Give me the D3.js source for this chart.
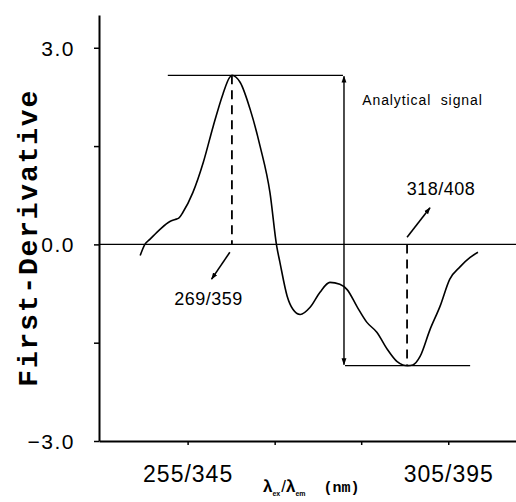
<!DOCTYPE html>
<html>
<head>
<meta charset="utf-8">
<script src="https://cdn.jsdelivr.net/npm/d3@7"></script>
<style>
  html, body { margin: 0; padding: 0; background: #fff; }
  svg { display: block; }
</style>
</head>
<body>
<svg id="chart" width="516" height="502"></svg>
<script>
// ---- data ----
const wavelengthEx = [245.9, 246.8, 247.8, 249.7, 251.6, 252.6, 253.3, 254.1, 256.0, 258.0, 259.9, 261.8, 263.0, 263.5, 264.3, 265.1, 267.0, 268.9, 270.8, 272.1, 272.7, 274.1, 275.2, 276.6, 278.5, 280.4, 282.3, 284.2, 285.6, 287.5, 289.4, 291.3, 293.3, 295.2, 296.3, 297.2, 298.2, 299.6, 301.5, 303.4, 305.3, 307.3, 309.2, 310.7];
const firstDerivative = [-0.17, 0.0, 0.08, 0.23, 0.35, 0.38, 0.40, 0.49, 0.79, 1.25, 1.80, 2.30, 2.54, 2.58, 2.55, 2.47, 2.06, 1.50, 0.79, -0.03, -0.27, -0.79, -0.99, -1.07, -0.96, -0.73, -0.58, -0.61, -0.69, -0.95, -1.19, -1.34, -1.60, -1.79, -1.84, -1.85, -1.84, -1.71, -1.30, -0.95, -0.53, -0.34, -0.20, -0.12];

const xTickValues = [255, 271.7, 288.3, 305];
const xTickLabels = ["255/345", "", "", "305/395"];
const yTickValues = [-3, -1.5, 0, 1.5, 3];
const yTickLabels = ["\u22123.0", "", "0.0", "", "3.0"];

// annotation values (data units)
const peakPoint = [263.5, 2.58];      // 269/359
const troughPoint = [297.1, -1.85];   // 318/408
const signalX = 285.0;
const topLineX = [251.2, 284.8];
const bottomLineX = [285.2, 309.2];
const peakLabel = "269/359";
const troughLabel = "318/408";
const signalLabel = "Analytical  signal";
const yTitle = "First-Derivative";

// ---- chart ----
const svg = d3.select("#chart");
const x = d3.scaleLinear().domain([238, 318]).range([99, 516]);
const y = d3.scaleLinear().domain([-3, 3.5]).range([441, 15]);

const defs = svg.append("defs");
defs.append("marker").attr("id", "ah")
  .attr("viewBox", "0 0 10 10").attr("refX", 9).attr("refY", 5)
  .attr("markerWidth", 7).attr("markerHeight", 7).attr("markerUnits", "userSpaceOnUse")
  .attr("orient", "auto-start-reverse")
  .append("path").attr("d", "M0,1.5 L10,5 L0,8.5 Z").attr("fill", "#000");

// zero line
svg.append("line")
  .attr("x1", x(238)).attr("x2", x(318))
  .attr("y1", y(0)).attr("y2", y(0))
  .attr("stroke", "#000").attr("stroke-width", 1.2);

// axes
const yAxis = d3.axisLeft(y).tickValues(yTickValues)
  .tickFormat((d, i) => yTickLabels[i]).tickSize(5).tickSizeOuter(0);
const gy = svg.append("g").attr("transform", `translate(${x(238)},0)`).call(yAxis);
gy.select(".domain").attr("stroke-width", 2);
gy.selectAll(".tick line").attr("stroke-width", 1.5);
gy.selectAll(".tick text")
  .attr("font-family", "Liberation Sans, Arial, sans-serif")
  .attr("font-size", 21).attr("letter-spacing", 1.5)
  .attr("x", -24).attr("dy", "0.36em").attr("fill", "#000");

const xAxis = d3.axisBottom(x).tickValues(xTickValues)
  .tickFormat((d, i) => xTickLabels[i]).tickSize(4).tickSizeOuter(0);
const gx = svg.append("g").attr("transform", `translate(0,${y(-3)})`).call(xAxis);
gx.select(".domain").attr("stroke-width", 2);
gx.selectAll(".tick line").attr("stroke-width", 1.5);
gx.selectAll(".tick text")
  .attr("font-family", "Liberation Sans, Arial, sans-serif")
  .attr("font-size", 23).attr("letter-spacing", 1)
  .attr("y", 41).attr("dy", 0).attr("fill", "#000");

// curve
const pts = wavelengthEx.map((w, i) => [w, firstDerivative[i]]);
svg.append("path")
  .datum(pts)
  .attr("fill", "none").attr("stroke", "#000").attr("stroke-width", 1.6)
  .attr("d", d3.line().x(d => x(d[0])).y(d => y(d[1])).curve(d3.curveMonotoneX));

// dashed verticals
svg.append("line")
  .attr("x1", x(peakPoint[0])).attr("x2", x(peakPoint[0]))
  .attr("y1", y(peakPoint[1])).attr("y2", y(0))
  .attr("stroke", "#000").attr("stroke-width", 1.8).attr("stroke-dasharray", "9,6");
svg.append("line")
  .attr("x1", x(troughPoint[0])).attr("x2", x(troughPoint[0]))
  .attr("y1", y(0)).attr("y2", y(troughPoint[1]))
  .attr("stroke", "#000").attr("stroke-width", 1.8).attr("stroke-dasharray", "9,6");

// horizontal reference lines
svg.append("line")
  .attr("x1", x(topLineX[0])).attr("x2", x(topLineX[1]))
  .attr("y1", y(peakPoint[1])).attr("y2", y(peakPoint[1]))
  .attr("stroke", "#000").attr("stroke-width", 1.3);
svg.append("line")
  .attr("x1", x(bottomLineX[0])).attr("x2", x(bottomLineX[1]))
  .attr("y1", y(troughPoint[1])).attr("y2", y(troughPoint[1]))
  .attr("stroke", "#000").attr("stroke-width", 1.3);

// double arrow
svg.append("line")
  .attr("x1", x(signalX)).attr("x2", x(signalX))
  .attr("y1", y(peakPoint[1]) + 1).attr("y2", y(troughPoint[1]) - 1)
  .attr("stroke", "#000").attr("stroke-width", 1.4)
  .attr("marker-start", "url(#ah)").attr("marker-end", "url(#ah)");

// pointer arrows
svg.append("line")
  .attr("x1", x(263.1)).attr("y1", y(-0.12))
  .attr("x2", x(259.6)).attr("y2", y(-0.53))
  .attr("stroke", "#000").attr("stroke-width", 1.6).attr("marker-end", "url(#ah)");
svg.append("line")
  .attr("x1", x(297.1)).attr("y1", y(0.11))
  .attr("x2", x(301.5)).attr("y2", y(0.56))
  .attr("stroke", "#000").attr("stroke-width", 1.6).attr("marker-end", "url(#ah)");

// labels
svg.append("text").text(peakLabel)
  .attr("x", x(259.0)).attr("y", y(-0.92))
  .attr("text-anchor", "middle")
  .attr("font-family", "Liberation Sans, Arial, sans-serif").attr("font-size", 18).attr("letter-spacing", 0.5);
svg.append("text").text(troughLabel)
  .attr("x", x(303.6)).attr("y", y(0.76))
  .attr("text-anchor", "middle")
  .attr("font-family", "Liberation Sans, Arial, sans-serif").attr("font-size", 18).attr("letter-spacing", 0.5);
svg.append("text").text(signalLabel)
  .attr("x", x(288.5)).attr("y", y(2.12))
  .attr("xml:space", "preserve").style("white-space", "pre")
  .attr("font-family", "Liberation Sans, Arial, sans-serif").attr("font-size", 14).attr("letter-spacing", 0.9);

// y title
svg.append("text").text(yTitle)
  .attr("transform", `translate(37,${y(0.1)}) rotate(-90)`)
  .attr("text-anchor", "middle")
  .attr("font-family", "Liberation Mono, Courier New, monospace")
  .attr("font-weight", "bold").attr("font-size", 28).attr("letter-spacing", 1.8);

// x title
const xt = svg.append("text")
  .attr("x", 263).attr("y", 492)
  .attr("font-family", "Liberation Sans, Arial, sans-serif").attr("font-weight", "bold").attr("font-size", 17)
  .style("white-space", "pre");
xt.append("tspan").text("\u03bb");
xt.append("tspan").text("ex").attr("font-size", 7).attr("dy", 4);
xt.append("tspan").text("/").attr("dy", -4).attr("font-weight", "normal").attr("dx", 1);
xt.append("tspan").text("\u03bb");
xt.append("tspan").text("em").attr("font-size", 7).attr("dy", 4);
xt.append("tspan").text("  (nm)").attr("dy", -4)
  .attr("font-family", "Liberation Mono, Courier New, monospace").attr("font-size", 15);
</script>
</body>
</html>
